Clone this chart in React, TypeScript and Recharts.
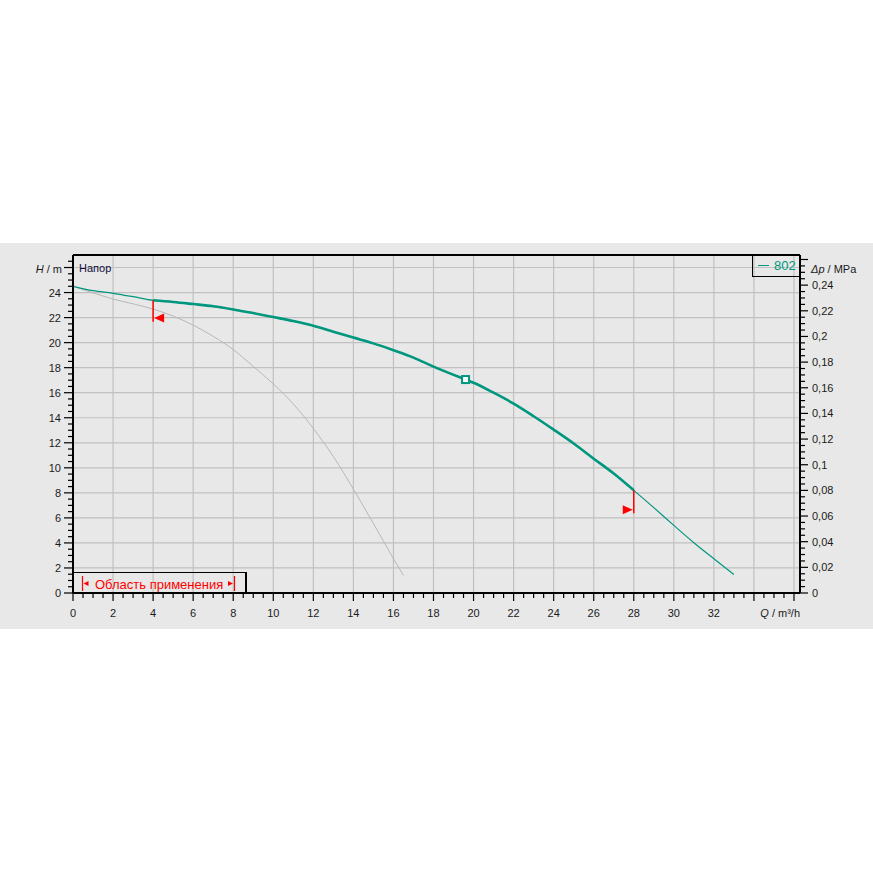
import React from 'react';
import {
  ComposedChart,
  Line,
  XAxis,
  YAxis,
  CartesianGrid,
  ReferenceLine,
  ReferenceDot,
  Legend,
} from 'recharts';

// ---- data ----
const pumpQ = [0, 1, 2, 3, 4, 5, 6, 7, 8, 9, 10, 11, 12, 13, 14, 15, 16, 17, 18, 19.6, 20, 21, 22, 23, 24, 25, 26, 27, 28, 29, 30, 31, 32, 33];
const pumpH = [24.5, 24.15, 23.94, 23.67, 23.38, 23.25, 23.08, 22.9, 22.65, 22.36, 22.04, 21.72, 21.35, 20.87, 20.4, 19.94, 19.39, 18.8, 18.08, 17.05, 16.8, 16.0, 15.13, 14.12, 13.05, 11.94, 10.73, 9.54, 8.2, 6.82, 5.4, 4.02, 2.74, 1.48];
const lowQ = [0, 1, 2, 3, 4, 5, 6, 7, 8, 9, 10, 11, 12, 13, 14, 15, 16, 16.5];
const lowH = [24.5, 23.98, 23.48, 23.1, 22.68, 22.12, 21.4, 20.5, 19.45, 18.1, 16.7, 15.1, 13.15, 10.9, 8.3, 5.55, 2.75, 1.4];

const seriesName = '802';
const dutyQ = 19.6;
const dutyH = 17.05;
const rangeMinQ = 4;
const rangeMaxQ = 28;
const rangeMinMark = { top: 23.38, bottom: 21.66, flag: 21.96 };
const rangeMaxMark = { top: 8.2, bottom: 6.38, flag: 6.66 };

const xLabels = [0, 2, 4, 6, 8, 10, 12, 14, 16, 18, 20, 22, 24, 26, 28, 30, 32];
const xGrid = [2, 4, 6, 8, 10, 12, 14, 16, 18, 20, 22, 24, 26, 28, 30, 32, 34, 36];
const yLabels = [0, 2, 4, 6, 8, 10, 12, 14, 16, 18, 20, 22, 24];
const yGrid = [2, 4, 6, 8, 10, 12, 14, 16, 18, 20, 22, 24, 26];
const pLabels = [0, 0.02, 0.04, 0.06, 0.08, 0.1, 0.12, 0.14, 0.16, 0.18, 0.2, 0.22, 0.24];

const X_MAX = 36.3;
const Y_MAX = 27;
const P_MAX = 0.2635;

const xTicks: number[] = [];
for (let i = 0; i <= 72; i++) xTicks.push(i / 2);
const yTicks: number[] = [];
for (let i = 0; i <= 53; i++) yTicks.push(i / 2);
const pTicks: number[] = [];
for (let i = 0; i <= 52; i++) pTicks.push(Math.round(i * 5) / 1000);

const pumpData = pumpQ.map((q, i) => ({ q, h: pumpH[i] }));
const pumpThick = pumpData.filter((d) => d.q >= rangeMinQ && d.q <= rangeMaxQ);
const lowData = lowQ.map((q, i) => ({ q, h: lowH[i] }));

// ---- styles ----
const FONT = '"Liberation Sans", Arial, sans-serif';
const TEAL = '#00977f';
const RED = '#ff0000';
const BG = '#e8e8e8';
const GRID = '#c0c0c0';
const TXT = '#1a1a1a';

const near = (a: number, b: number) => Math.abs(a - b) < 1e-6;

const XTick = (props: any) => {
  const { x, y, payload } = props;
  const v = payload.value as number;
  const major = near(v % 2, 0);
  const label = xLabels.some((l) => near(l, v));
  return (
    <g>
      <line x1={x} x2={x} y1={y} y2={y + (major ? 8 : 5)} stroke="#000" strokeWidth={1.2} />
      {label && (
        <text x={x} y={y + 20} textAnchor="middle" dominantBaseline="central" fontFamily={FONT} fontSize={11} fill={TXT}>
          {v}
        </text>
      )}
    </g>
  );
};

const YTick = (props: any) => {
  const { x, y, payload } = props;
  const v = payload.value as number;
  const major = near(v % 2, 0);
  const label = yLabels.some((l) => near(l, v));
  return (
    <g>
      <line x1={x - (major ? 9 : 5)} x2={x} y1={y} y2={y} stroke="#000" strokeWidth={1.2} />
      {label && (
        <text x={x - 12} y={y} textAnchor="end" dominantBaseline="central" fontFamily={FONT} fontSize={11} fill={TXT}>
          {v}
        </text>
      )}
      {near(v, 26) && (
        <text x={x - 11} y={y + 1} textAnchor="end" dominantBaseline="central" fontFamily={FONT} fontSize={11} fill={TXT}>
          <tspan fontStyle="italic">H</tspan> / m
        </text>
      )}
    </g>
  );
};

const PTick = (props: any) => {
  const { x, y, payload } = props;
  const v = payload.value as number;
  const major = near(Math.round(v * 1000) % 20, 0);
  const label = pLabels.some((l) => near(l, v));
  return (
    <g>
      <line x1={x} x2={x + (major ? 8 : 5)} y1={y} y2={y} stroke="#000" strokeWidth={1.2} />
      {label && (
        <text x={x + 12} y={y} textAnchor="start" dominantBaseline="central" fontFamily={FONT} fontSize={11} fill={TXT}>
          {String(v).replace('.', ',')}
        </text>
      )}
    </g>
  );
};

const LeftFlag = (props: any) => {
  const { cx, cy } = props;
  return <polygon points={`${cx + 1},${cy} ${cx + 11},${cy - 4.5} ${cx + 11},${cy + 4.5}`} fill={RED} />;
};
const RightFlag = (props: any) => {
  const { cx, cy } = props;
  return <polygon points={`${cx - 1},${cy} ${cx - 11},${cy - 4.5} ${cx - 11},${cy + 4.5}`} fill={RED} />;
};
const DutySquare = (props: any) => {
  const { cx, cy } = props;
  return <rect x={cx - 3.5} y={cy - 3.5} width={7} height={7} fill="#ffffff" stroke={TEAL} strokeWidth={2} />;
};

const LegendBox = () => (
  <div
    style={{
      boxSizing: 'border-box',
      width: 48,
      height: 22,
      border: '1.5px solid #000',
      borderRight: 'none',
      borderTop: 'none',
      display: 'flex',
      alignItems: 'center',
      fontFamily: FONT,
      fontSize: 13,
      color: TEAL,
      paddingLeft: 5,
    }}
  >
    <span style={{ display: 'inline-block', width: 11, height: 1.3, background: TEAL, marginRight: 5 }} />
    {seriesName}
  </div>
);

const PAxisTitle = (props: any) => {
  const vb = props.viewBox || {};
  return (
    <text x={vb.x + 11} y={vb.y + 14} textAnchor="start" dominantBaseline="central" fontFamily={FONT} fontSize={11} fill={TXT}>
      <tspan fontStyle="italic">Δp</tspan> / MPa
    </text>
  );
};
const QAxisTitle = (props: any) => {
  const vb = props.viewBox || {};
  return (
    <text x={vb.x + vb.width} y={vb.y + 20} textAnchor="end" dominantBaseline="central" fontFamily={FONT} fontSize={11} fill={TXT}>
      <tspan fontStyle="italic">Q</tspan> / m³/h
    </text>
  );
};
const HeadTitle = (props: any) => {
  const vb = props.viewBox || {};
  return (
    <text x={vb.x + vb.width + 6} y={vb.y + 13} textAnchor="start" dominantBaseline="central" fontFamily={FONT} fontSize={11} fill="#101040">
      Напор
    </text>
  );
};

export default function App() {
  return (
    <div style={{ position: 'absolute', left: 0, top: 0, width: 873, height: 873, background: '#ffffff' }}>
      <div style={{ position: 'absolute', left: 0, top: 243, width: 873, height: 386, background: BG }}>
        <ComposedChart width={873} height={386} margin={{ top: 12, right: 0, bottom: 0, left: 0 }}>
          <XAxis
            xAxisId="main"
            type="number"
            dataKey="q"
            domain={[0, X_MAX]}
            ticks={xTicks}
            interval={0}
            allowDataOverflow
            height={36}
            tickSize={0}
            tickMargin={0}
            tickLine={false}
            tick={<XTick />}
            axisLine={{ stroke: '#000', strokeWidth: 2 }}
            label={<QAxisTitle />}
          />
          <YAxis
            yAxisId="left"
            orientation="left"
            type="number"
            dataKey="h"
            domain={[0, Y_MAX]}
            ticks={yTicks}
            interval={0}
            allowDataOverflow
            width={73}
            tickSize={0}
            tickMargin={0}
            tickLine={false}
            tick={<YTick />}
            axisLine={{ stroke: '#000', strokeWidth: 2 }}
            label={<HeadTitle />}
          />
          <YAxis
            yAxisId="right"
            orientation="right"
            type="number"
            domain={[0, P_MAX]}
            ticks={pTicks}
            interval={0}
            allowDataOverflow
            width={73}
            tickSize={0}
            tickMargin={0}
            tickLine={false}
            tick={<PTick />}
            axisLine={{ stroke: '#000', strokeWidth: 2 }}
            label={<PAxisTitle />}
          />
          <XAxis xAxisId="grid" type="number" dataKey="q" domain={[0, X_MAX]} ticks={xGrid} allowDataOverflow hide height={0} />
          <YAxis yAxisId="gridY" type="number" dataKey="h" domain={[0, Y_MAX]} ticks={yGrid} allowDataOverflow hide width={0} />
          <CartesianGrid xAxisId="grid" yAxisId="gridY" stroke={GRID} strokeWidth={1.2} />
          <ReferenceLine xAxisId="main" yAxisId="left" y={Y_MAX} stroke="#000" strokeWidth={2} ifOverflow="visible" />
          <Line
            xAxisId="main"
            yAxisId="left"
            data={lowData}
            dataKey="h"
            type="monotone"
            stroke="#b8b8b8"
            strokeWidth={1}
            dot={false}
            activeDot={false}
            isAnimationActive={false}
            legendType="none"
          />
          <Line
            xAxisId="main"
            yAxisId="left"
            data={pumpData}
            dataKey="h"
            name={seriesName}
            type="monotone"
            stroke={TEAL}
            strokeWidth={1.2}
            dot={false}
            activeDot={false}
            isAnimationActive={false}
          />
          <Line
            xAxisId="main"
            yAxisId="left"
            data={pumpThick}
            dataKey="h"
            type="monotone"
            stroke={TEAL}
            strokeWidth={2.6}
            dot={false}
            activeDot={false}
            isAnimationActive={false}
            legendType="none"
          />
          <ReferenceLine
            xAxisId="main"
            yAxisId="left"
            segment={[{ x: rangeMinQ, y: rangeMinMark.top }, { x: rangeMinQ, y: rangeMinMark.bottom }]}
            stroke={RED}
            strokeWidth={1.5}
          />
          <ReferenceLine
            xAxisId="main"
            yAxisId="left"
            segment={[{ x: rangeMaxQ, y: rangeMaxMark.top }, { x: rangeMaxQ, y: rangeMaxMark.bottom }]}
            stroke={RED}
            strokeWidth={1.5}
          />
          <ReferenceDot xAxisId="main" yAxisId="left" x={rangeMinQ} y={rangeMinMark.flag} shape={<LeftFlag />} />
          <ReferenceDot xAxisId="main" yAxisId="left" x={rangeMaxQ} y={rangeMaxMark.flag} shape={<RightFlag />} />
          <ReferenceDot xAxisId="main" yAxisId="left" x={dutyQ} y={dutyH} shape={<DutySquare />} />
          <Legend
            layout="horizontal"
            verticalAlign="middle"
            align="center"
            content={<LegendBox />}
            wrapperStyle={{ position: 'absolute', left: 752, top: 12, width: 48, height: 22, margin: 0, padding: 0 }}
          />
        </ComposedChart>
        <div
          style={{
            position: 'absolute',
            left: 73,
            top: 329,
            width: 174,
            height: 22,
            boxSizing: 'border-box',
            borderTop: '1.5px solid #000',
            borderRight: '2.5px solid #000',
            fontFamily: FONT,
            fontSize: 13,
            color: RED,
          }}
        >
          <svg width={174} height={22} style={{ position: 'absolute', left: 0, top: 0 }}>
            <line x1={9.5} x2={9.5} y1={3} y2={18} stroke={RED} strokeWidth={1.2} />
            <polygon points="10.5,10.5 15.5,8 15.5,13" fill={RED} />
            <polygon points="160,10.5 155,8 155,13" fill={RED} />
            <line x1={161.5} x2={161.5} y1={3} y2={18} stroke={RED} strokeWidth={1.2} />
            <text x={22} y={11} dominantBaseline="central" fontFamily={FONT} fontSize={13} fill={RED}>
              Область применения
            </text>
          </svg>
        </div>
      </div>
    </div>
  );
}
